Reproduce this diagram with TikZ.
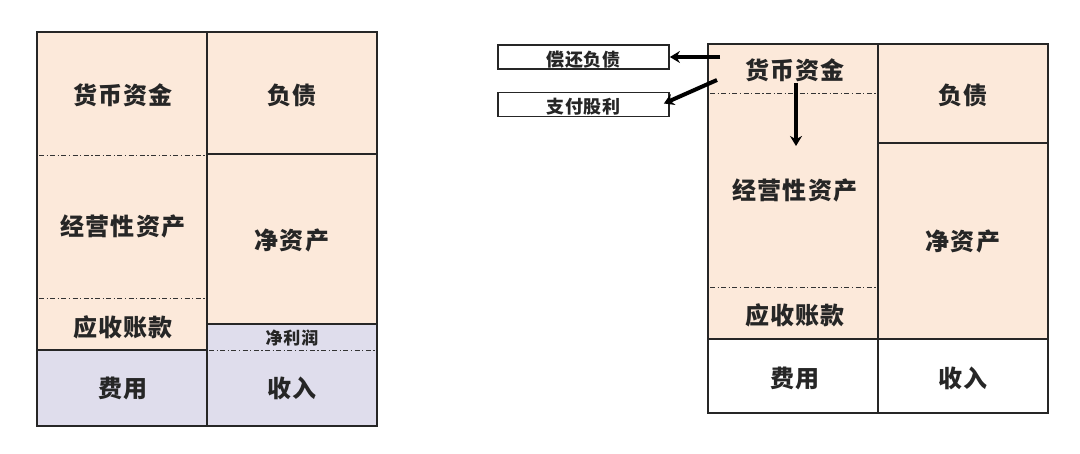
\documentclass[tikz,border=0pt]{standalone}
\usepackage{fontspec}
\setmainfont{Noto Sans CJK SC}[LetterSpace=5]
\usetikzlibrary{arrows.meta}
\definecolor{peach}{HTML}{FCE9DA}
\definecolor{lav}{HTML}{DFDDEC}
\tikzset{
  frame/.style={draw=black!85, line width=2pt},
  dd/.style={draw=black!80, line width=0.9pt, dash pattern=on 5pt off 2.5pt on 1.2pt off 2.5pt},
  lbl/.style={font=\fontsize{24}{26}\selectfont\bfseries, text=black!85, inner sep=0pt},
  sml/.style={font=\fontsize{17}{19}\selectfont\bfseries, text=black!85, inner sep=0pt},
  smallbox/.style={draw=black!85, line width=1.8pt, minimum width=171pt, minimum height=24pt, inner sep=0pt, text depth=0pt, font=\fontsize{18}{20}\selectfont\bfseries, text=black!85},
  bigarrow/.style={line width=4pt, -{Stealth[length=10pt,width=12pt]}}
}
\begin{document}
\begin{tikzpicture}[x=1pt,y=-1pt]
\useasboundingbox (0,0) rectangle (1080,454);
% ---------- left diagram ----------
\fill[peach] (37,32) rectangle (207,350);
\fill[peach] (207,32) rectangle (377,324);
\fill[lav] (37,350) rectangle (377,426);
\fill[lav] (207,324) rectangle (377,350);
\draw[dd] (39,155) -- (205,155);
\draw[dd] (39,298) -- (205,298);
\draw[dd] (209,350) -- (375,350);
\draw[frame] (37,350) -- (207,350);
\draw[frame] (207,154) -- (377,154);
\draw[frame] (207,324) -- (377,324);
\draw[frame] (207,32) -- (207,426);
\draw[frame] (37,32) rectangle (377,426);
\node[lbl] (l1) at (123,95) {货币资金};
\node[lbl] (l2) at (292,95) {负债};
\node[lbl] (l3) at (123,226) {经营性资产};
\node[lbl] (l4) at (292,240) {净资产};
\node[lbl] (l5) at (123,327) {应收账款};
\node[sml] (l6) at (292,338) {净利润};
\node[lbl] (l7) at (123,388) {费用};
\node[lbl] (l8) at (292,388) {收入};
% ---------- right diagram ----------
\fill[peach] (708,44) rectangle (1048,339);
\draw[dd] (710,93) -- (876,93);
\draw[dd] (710,287) -- (876,287);
\draw[frame] (878,143) -- (1048,143);
\draw[frame] (708,339) -- (1048,339);
\draw[frame] (878,44) -- (878,413);
\draw[frame] (708,44) rectangle (1048,413);
\node[lbl] (r1) at (795,70) {货币资金};
\node[lbl] (r2) at (963,95) {负债};
\node[lbl] (r3) at (795,190) {经营性资产};
\node[lbl] (r4) at (963,241) {净资产};
\node[lbl] (r5) at (795,315) {应收账款};
\node[lbl] (r7) at (795,378) {费用};
\node[lbl] (r8) at (963,378) {收入};
% small boxes
\node[smallbox] (b1) at (583.5,57) {\raisebox{-3pt}{偿还负债}};
\node[smallbox] (b2) at (583.5,104.5) {\raisebox{-3pt}{支付股利}};
\coordinate (s1) at (720,57);
\coordinate (s2) at (717,80);
\coordinate (s3) at (796,83);
\coordinate (t3) at (796,146);
\draw[bigarrow] (s1) -- (b1.east);
\draw[bigarrow] (s2) -- ([xshift=-6pt,yshift=1pt]b2.east);
\draw[bigarrow] (s3) -- (t3);
\end{tikzpicture}
\end{document}
